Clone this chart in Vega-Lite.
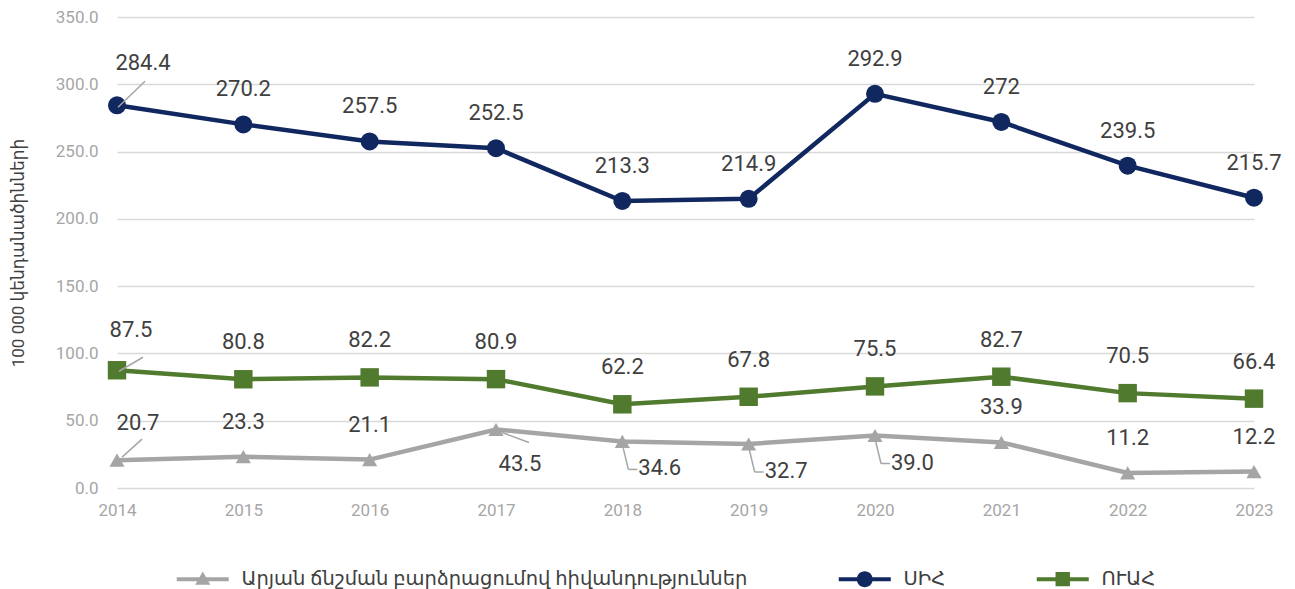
{
  "$schema": "https://vega.github.io/schema/vega-lite/v6.json",
  "width": 1137,
  "height": 471,
  "autosize": {"type": "none"},
  "padding": {"left": 117, "top": 17, "right": 41, "bottom": 101},
  "background": "white",
  "config": {
    "font": "Roboto, DejaVu Sans, sans-serif",
    "view": {"stroke": null}
  },
  "data": {
    "values": [
      {"year": 2014, "series": "ՍԻՀ", "value": 284.4, "label": "284.4"},
      {"year": 2015, "series": "ՍԻՀ", "value": 270.2, "label": "270.2"},
      {"year": 2016, "series": "ՍԻՀ", "value": 257.5, "label": "257.5"},
      {"year": 2017, "series": "ՍԻՀ", "value": 252.5, "label": "252.5"},
      {"year": 2018, "series": "ՍԻՀ", "value": 213.3, "label": "213.3"},
      {"year": 2019, "series": "ՍԻՀ", "value": 214.9, "label": "214.9"},
      {"year": 2020, "series": "ՍԻՀ", "value": 292.9, "label": "292.9"},
      {"year": 2021, "series": "ՍԻՀ", "value": 272, "label": "272"},
      {"year": 2022, "series": "ՍԻՀ", "value": 239.5, "label": "239.5"},
      {"year": 2023, "series": "ՍԻՀ", "value": 215.7, "label": "215.7"},
      {"year": 2014, "series": "ՈՒԱՀ", "value": 87.5, "label": "87.5"},
      {"year": 2015, "series": "ՈՒԱՀ", "value": 80.8, "label": "80.8"},
      {"year": 2016, "series": "ՈՒԱՀ", "value": 82.2, "label": "82.2"},
      {"year": 2017, "series": "ՈՒԱՀ", "value": 80.9, "label": "80.9"},
      {"year": 2018, "series": "ՈՒԱՀ", "value": 62.2, "label": "62.2"},
      {"year": 2019, "series": "ՈՒԱՀ", "value": 67.8, "label": "67.8"},
      {"year": 2020, "series": "ՈՒԱՀ", "value": 75.5, "label": "75.5"},
      {"year": 2021, "series": "ՈՒԱՀ", "value": 82.7, "label": "82.7"},
      {"year": 2022, "series": "ՈՒԱՀ", "value": 70.5, "label": "70.5"},
      {"year": 2023, "series": "ՈՒԱՀ", "value": 66.4, "label": "66.4"},
      {"year": 2014, "series": "Արյան ճնշման բարձրացումով հիվանդություններ", "value": 20.7, "label": "20.7"},
      {"year": 2015, "series": "Արյան ճնշման բարձրացումով հիվանդություններ", "value": 23.3, "label": "23.3"},
      {"year": 2016, "series": "Արյան ճնշման բարձրացումով հիվանդություններ", "value": 21.1, "label": "21.1"},
      {"year": 2017, "series": "Արյան ճնշման բարձրացումով հիվանդություններ", "value": 43.5, "label": "43.5"},
      {"year": 2018, "series": "Արյան ճնշման բարձրացումով հիվանդություններ", "value": 34.6, "label": "34.6"},
      {"year": 2019, "series": "Արյան ճնշման բարձրացումով հիվանդություններ", "value": 32.7, "label": "32.7"},
      {"year": 2020, "series": "Արյան ճնշման բարձրացումով հիվանդություններ", "value": 39.0, "label": "39.0"},
      {"year": 2021, "series": "Արյան ճնշման բարձրացումով հիվանդություններ", "value": 33.9, "label": "33.9"},
      {"year": 2022, "series": "Արյան ճնշման բարձրացումով հիվանդություններ", "value": 11.2, "label": "11.2"},
      {"year": 2023, "series": "Արյան ճնշման բարձրացումով հիվանդություններ", "value": 12.2, "label": "12.2"}
    ]
  },
  "encoding": {
    "x": {
      "field": "year", "type": "ordinal",
      "scale": {"type": "point", "padding": 0},
      "axis": {"title": null, "labelAngle": 0, "domain": false, "ticks": false, "grid": false,
               "labelColor": "#A6A6A6", "labelFontSize": 17, "labelPadding": 14}
    },
    "y": {
      "field": "value", "type": "quantitative",
      "scale": {"domain": [0, 350], "nice": false},
      "axis": {"title": "100 000 կենդանածինների", "values": [0, 50, 100, 150, 200, 250, 300, 350],
               "format": ".1f", "domain": false, "ticks": false, "gridColor": "#D9D9D9", "gridWidth": 1.5,
               "labelColor": "#A6A6A6", "labelFontSize": 17, "labelPadding": 19,
               "titleColor": "#404040", "titleFontSize": 17, "titleFontWeight": "normal", "titlePadding": 28}
    }
  },
  "layer": [
    {
      "transform": [{"filter": "datum.series == 'Արյան ճնշման բարձրացումով հիվանդություններ'"}],
      "mark": {"type": "line", "strokeWidth": 4.5, "color": "#A5A5A5"},
      "encoding": {}
    },
    {
      "transform": [{"filter": "datum.series == 'ՍԻՀ'"}],
      "mark": {"type": "line", "strokeWidth": 4.5, "color": "#10275F"},
      "encoding": {}
    },
    {
      "transform": [{"filter": "datum.series == 'ՈՒԱՀ'"}],
      "mark": {"type": "line", "strokeWidth": 4.5, "color": "#507A2E"},
      "encoding": {}
    },
    {
      "transform": [{"filter": "datum.series == 'Արյան ճնշման բարձրացումով հիվանդություններ'"}],
      "mark": {"type": "point", "shape": "triangle-up", "filled": true, "opacity": 1, "size": 230, "color": "#A5A5A5"},
      "encoding": {}
    },
    {
      "transform": [{"filter": "datum.series == 'ՍԻՀ'"}],
      "mark": {"type": "point", "shape": "circle", "filled": true, "opacity": 1, "size": 324, "color": "#10275F"},
      "encoding": {}
    },
    {
      "transform": [{"filter": "datum.series == 'ՈՒԱՀ'"}],
      "mark": {"type": "point", "shape": "square", "filled": true, "opacity": 1, "size": 340, "color": "#507A2E"},
      "encoding": {}
    },
    {
      "mark": {"type": "point", "filled": true, "opacity": 1, "size": 0},
      "encoding": {
        "color": {"field": "series", "type": "nominal",
          "scale": {"domain": ["Արյան ճնշման բարձրացումով հիվանդություններ", "ՍԻՀ", "ՈՒԱՀ"], "range": ["#A5A5A5", "#10275F", "#507A2E"]},
          "legend": {"title": null, "orient": "none", "legendX": 76, "legendY": 552, "direction": "horizontal",
                     "symbolOpacity": 1, "symbolSize": 64, "symbolStrokeWidth": 0, "labelFontSize": 19.5, "labelColor": "#404040",
                     "labelOffset": 29, "columnPadding": 90, "labelLimit": 0, "padding": 0}},
        "shape": {"field": "series", "type": "nominal",
          "scale": {"domain": ["Արյան ճնշման բարձրացումով հիվանդություններ", "ՍԻՀ", "ՈՒԱՀ"],
                    "range": ["M-6.5,-0.5H6.5V0.5H-6.5Z M0,-1.9L1.9,1.4L-1.9,1.4Z",
                              "M-6.5,-0.5H6.5V0.5H-6.5Z M-2,0A2,2 0 1,1 2,0A2,2 0 1,1 -2,0Z",
                              "M-6.5,-0.5H6.5V0.5H-6.5Z M-1.8,-1.8H1.8V1.8H-1.8Z"]},
          "legend": {"title": null, "orient": "none", "legendX": 76, "legendY": 552, "direction": "horizontal",
                     "symbolOpacity": 1, "symbolSize": 64, "symbolStrokeWidth": 0, "labelFontSize": 19.5, "labelColor": "#404040",
                     "labelOffset": 29, "columnPadding": 90, "labelLimit": 0, "padding": 0}}
      }
    },
    {
      "transform": [{"filter": "datum.series == 'ՍԻՀ' && datum.year != 2014"}],
      "mark": {"type": "text", "fontSize": 22, "color": "#404040", "baseline": "middle", "dy": -35},
      "encoding": {"text": {"field": "label"}}
    },
    {
      "transform": [{"filter": "datum.series == 'ՍԻՀ' && datum.year == 2014"}],
      "mark": {"type": "text", "fontSize": 22, "color": "#404040", "baseline": "middle", "dx": 26, "dy": -42},
      "encoding": {"text": {"field": "label"}}
    },
    {
      "transform": [{"filter": "datum.series == 'ՍԻՀ' && datum.year == 2014"}],
      "mark": {"type": "rule", "color": "#A6A6A6", "strokeWidth": 1.5, "xOffset": 1, "yOffset": 2, "x2Offset": 28, "y2Offset": -24},
      "encoding": {"x2": {"field": "year"}, "y2": {"field": "value"}}
    },
    {
      "transform": [{"filter": "datum.series == 'ՈՒԱՀ' && datum.year != 2014"}],
      "mark": {"type": "text", "fontSize": 22, "color": "#404040", "baseline": "middle", "dy": -37},
      "encoding": {"text": {"field": "label"}}
    },
    {
      "transform": [{"filter": "datum.series == 'ՈՒԱՀ' && datum.year == 2014"}],
      "mark": {"type": "text", "fontSize": 22, "color": "#404040", "baseline": "middle", "dx": 14, "dy": -40},
      "encoding": {"text": {"field": "label"}}
    },
    {
      "transform": [{"filter": "datum.series == 'ՈՒԱՀ' && datum.year == 2014"}],
      "mark": {"type": "rule", "color": "#A6A6A6", "strokeWidth": 1.5, "xOffset": 2, "yOffset": 1, "x2Offset": 26, "y2Offset": -13},
      "encoding": {"x2": {"field": "year"}, "y2": {"field": "value"}}
    },
    {
      "transform": [{"filter": "datum.series == 'Արյան ճնշման բարձրացումով հիվանդություններ' && (datum.year == 2015 || datum.year == 2016 || datum.year >= 2021)"}],
      "mark": {"type": "text", "fontSize": 22, "color": "#404040", "baseline": "middle", "dy": -35},
      "encoding": {"text": {"field": "label"}}
    },
    {
      "transform": [{"filter": "datum.series == 'Արյան ճնշման բարձրացումով հիվանդություններ' && datum.year == 2014"}],
      "mark": {"type": "text", "fontSize": 22, "color": "#404040", "baseline": "middle", "dx": 21, "dy": -37},
      "encoding": {"text": {"field": "label"}}
    },
    {
      "transform": [{"filter": "datum.series == 'Արյան ճնշման բարձրացումով հիվանդություններ' && datum.year == 2014"}],
      "mark": {"type": "rule", "color": "#A6A6A6", "strokeWidth": 1.5, "xOffset": 5, "yOffset": -3, "x2Offset": 25, "y2Offset": -21},
      "encoding": {"x2": {"field": "year"}, "y2": {"field": "value"}}
    },
    {
      "transform": [{"filter": "datum.series == 'Արյան ճնշման բարձրացումով հիվանդություններ' && datum.year == 2017"}],
      "mark": {"type": "text", "fontSize": 22, "color": "#404040", "baseline": "middle", "dx": 24, "dy": 35},
      "encoding": {"text": {"field": "label"}}
    },
    {
      "transform": [{"filter": "datum.series == 'Արյան ճնշման բարձրացումով հիվանդություններ' && datum.year == 2017"}],
      "mark": {"type": "rule", "color": "#A6A6A6", "strokeWidth": 1.5, "xOffset": 6, "yOffset": 3, "x2Offset": 33, "y2Offset": 13},
      "encoding": {"x2": {"field": "year"}, "y2": {"field": "value"}}
    },
    {
      "transform": [{"filter": "datum.series == 'Արյան ճնշման բարձրացումով հիվանդություններ' && datum.year >= 2018 && datum.year <= 2020"}],
      "mark": {"type": "text", "fontSize": 22, "color": "#404040", "baseline": "middle", "align": "left", "dx": 16, "dy": 27},
      "encoding": {"text": {"field": "label"}}
    },
    {
      "transform": [{"filter": "datum.series == 'Արյան ճնշման բարձրացումով հիվանդություններ' && datum.year >= 2018 && datum.year <= 2020"}],
      "mark": {"type": "rule", "color": "#A6A6A6", "strokeWidth": 1.5, "xOffset": 0, "yOffset": 3, "x2Offset": 6, "y2Offset": 28},
      "encoding": {"x2": {"field": "year"}, "y2": {"field": "value"}}
    },
    {
      "transform": [{"filter": "datum.series == 'Արյան ճնշման բարձրացումով հիվանդություններ' && datum.year >= 2018 && datum.year <= 2020"}],
      "mark": {"type": "rule", "color": "#A6A6A6", "strokeWidth": 1.5, "xOffset": 6, "yOffset": 28, "x2Offset": 15, "y2Offset": 28},
      "encoding": {"x2": {"field": "year"}, "y2": {"field": "value"}}
    }
  ]
}
